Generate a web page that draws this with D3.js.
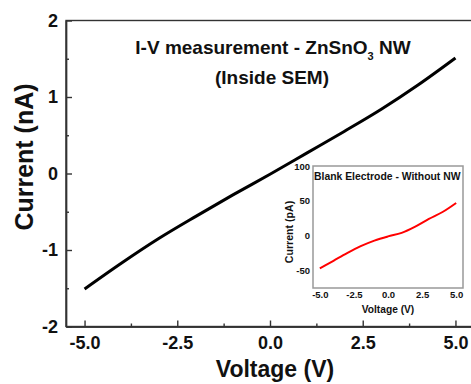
<!DOCTYPE html>
<html>
<head>
<meta charset="utf-8">
<script src="https://cdn.jsdelivr.net/npm/d3@7"></script>
<style>
  body { margin: 0; background: #fff; }
  text { font-family: "Liberation Sans", Arial, sans-serif; font-weight: bold; fill: #111; }
  .axis path, .axis line { stroke: #333; stroke-width: 1.4; }
</style>
</head>
<body>
<svg id="chart" width="471" height="384"></svg>
<script>
// main I-V curve (nanowire)
const voltage = [-5, -4, -3, -2, -1, 0, 1, 2, 3, 4, 5];
const currentNA = [-1.51, -1.17, -0.85, -0.56, -0.28, -0.01, 0.27, 0.55, 0.84, 1.16, 1.51];

// inset: blank electrode
const blankVoltage = [-5, -4, -3, -2, -1, 0, 1, 2, 3, 4, 5];
const blankCurrentPA = [-47, -36, -25, -15, -7, -1, 4, 13, 24, 34, 47];

const xTicks = [-5, -2.5, 0, 2.5, 5];
const xMinorTicks = [-3.75, -1.25, 1.25, 3.75];
const yTicks = [-2, -1, 0, 1, 2];
const yMinorTicks = [-1.5, -0.5, 0.5, 1.5];
const insetXTicks = [-5, -2.5, 0, 2.5, 5];
const insetYTicks = [-50, 0, 50, 100];

// plain hyphen for negatives, like the original
const fmt1 = d => d3.format('.1f')(d).replace('\u2212', '-');
const fmt0 = d => d3.format('d')(d).replace('\u2212', '-');

const svg = d3.select('#chart');

// ---- main plot
const plot = {left: 66, right: 474, top: 20.5, bottom: 326.5};

const x = d3.scaleLinear().domain([-5.5, 5.5]).range([plot.left, plot.right]);
const y = d3.scaleLinear().domain([-2, 2]).range([plot.bottom, plot.top]);

svg.append('rect')
  .attr('x', plot.left).attr('y', plot.top)
  .attr('width', plot.right - plot.left).attr('height', plot.bottom - plot.top)
  .attr('fill', 'none').attr('stroke', '#333').attr('stroke-width', 1.4);

const xAxis = svg.append('g')
  .attr('class', 'axis')
  .attr('transform', `translate(0,${plot.bottom})`)
  .call(d3.axisBottom(x).tickValues(xTicks).tickSizeInner(-6).tickSizeOuter(0)
    .tickPadding(10).tickFormat(fmt1));
xAxis.selectAll('text').style('font-size', '18px');

svg.append('g')
  .attr('class', 'axis')
  .attr('transform', `translate(0,${plot.bottom})`)
  .call(d3.axisBottom(x).tickValues(xMinorTicks).tickSizeInner(-3).tickSizeOuter(0).tickFormat(''));

const yAxis = svg.append('g')
  .attr('class', 'axis')
  .attr('transform', `translate(${plot.left},0)`)
  .call(d3.axisLeft(y).tickValues(yTicks).tickSizeInner(-6).tickSizeOuter(0)
    .tickPadding(8).tickFormat(fmt0));
yAxis.selectAll('text').style('font-size', '18px');

svg.append('g')
  .attr('class', 'axis')
  .attr('transform', `translate(${plot.left},0)`)
  .call(d3.axisLeft(y).tickValues(yMinorTicks).tickSizeInner(-3).tickSizeOuter(0).tickFormat(''));

svg.selectAll('.axis text').style('fill', '#111');

const line = d3.line()
  .x((d, i) => x(voltage[i]))
  .y(d => y(d))
  .curve(d3.curveMonotoneX);

svg.append('path')
  .datum(currentNA)
  .attr('d', line)
  .attr('fill', 'none')
  .attr('stroke', '#000')
  .attr('stroke-width', 3);

// axis titles
svg.append('text')
  .attr('x', 275).attr('y', 377)
  .attr('text-anchor', 'middle')
  .style('font-size', '23px')
  .text('Voltage (V)');

svg.append('text')
  .attr('transform', 'translate(33,157) rotate(-90)')
  .attr('text-anchor', 'middle')
  .style('font-size', '25px')
  .text('Current (nA)');

// title
const title = svg.append('text')
  .attr('x', 273).attr('y', 54)
  .attr('text-anchor', 'middle')
  .style('font-size', '19px');
title.append('tspan').text('I-V measurement - ZnSnO');
title.append('tspan').attr('dy', 6).style('font-size', '11px').text('3');
title.append('tspan').attr('dy', -6).text(' NW');

svg.append('text')
  .attr('x', 272).attr('y', 84)
  .attr('text-anchor', 'middle')
  .style('font-size', '19px')
  .text('(Inside SEM)');

// ---- inset
const inset = {left: 313, right: 463, top: 166, bottom: 288};
const ix = d3.scaleLinear().domain([-5.5, 5.5]).range([inset.left, inset.right]);
const iy = d3.scaleLinear().domain([-75, 100]).range([inset.bottom, inset.top]);

svg.append('rect')
  .attr('x', inset.left).attr('y', inset.top)
  .attr('width', inset.right - inset.left).attr('height', inset.bottom - inset.top)
  .attr('fill', '#fff').attr('stroke', '#999').attr('stroke-width', 1.5);

const ixAxis = svg.append('g')
  .attr('transform', `translate(0,${inset.bottom})`)
  .call(d3.axisBottom(ix).tickValues(insetXTicks).tickSize(0).tickPadding(3).tickFormat(fmt1));
ixAxis.select('.domain').remove();
ixAxis.selectAll('text').style('font-size', '9.5px');

const iyAxis = svg.append('g')
  .attr('transform', `translate(${inset.left},0)`)
  .call(d3.axisLeft(iy).tickValues(insetYTicks).tickSize(0).tickPadding(3).tickFormat(fmt0));
iyAxis.select('.domain').remove();
iyAxis.selectAll('text').style('font-size', '9.5px');

const insetLine = d3.line()
  .x((d, i) => ix(blankVoltage[i]))
  .y(d => iy(d))
  .curve(d3.curveMonotoneX);

svg.append('path')
  .datum(blankCurrentPA)
  .attr('d', insetLine)
  .attr('fill', 'none')
  .attr('stroke', '#ff0000')
  .attr('stroke-width', 2);

svg.append('text')
  .attr('x', inset.left + 1).attr('y', 180)
  .style('font-size', '10.4px')
  .text('Blank Electrode - Without NW');

svg.append('text')
  .attr('x', 388).attr('y', 313)
  .attr('text-anchor', 'middle')
  .style('font-size', '10.2px')
  .text('Voltage (V)');

svg.append('text')
  .attr('transform', 'translate(293,232) rotate(-90)')
  .attr('text-anchor', 'middle')
  .style('font-size', '10.6px')
  .text('Current (pA)');
</script>
</body>
</html>
